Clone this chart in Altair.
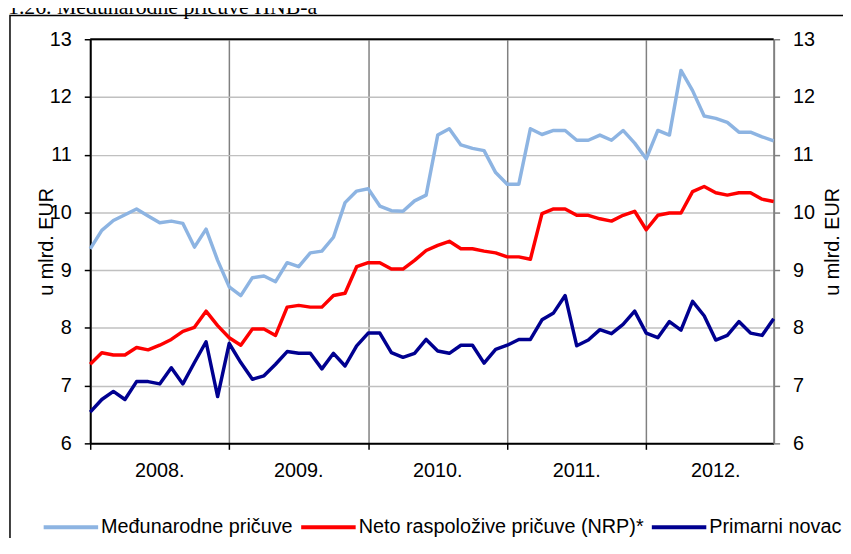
import altair as alt
import pandas as pd

# ---- data ----
series_names = ["Međunarodne pričuve", "Neto raspoložive pričuve (NRP)*", "Primarni novac"]
series_colors = ["#8DB4E2", "#FF0000", "#000090"]
year_labels = ["2008.", "2009.", "2010.", "2011.", "2012."]

medjunarodne = [9.37, 9.69, 9.86, 9.96, 10.06, 9.94, 9.82, 9.85, 9.81, 9.40, 9.71, 9.17,
                8.71, 8.56, 8.87, 8.90, 8.80, 9.13, 9.06, 9.30, 9.33, 9.57, 10.17, 10.37,
                10.41, 10.11, 10.03, 10.02, 10.20, 10.30, 11.34, 11.45, 11.17, 11.11, 11.07, 10.69,
                10.49, 10.49, 11.45, 11.35, 11.42, 11.42, 11.25, 11.25, 11.34, 11.25, 11.42, 11.20,
                10.93, 11.42, 11.34, 12.46, 12.11, 11.67, 11.63, 11.56, 11.39, 11.39, 11.31, 11.24]
nrp = [7.37, 7.57, 7.53, 7.53, 7.66, 7.62, 7.70, 7.80, 7.94, 8.01, 8.29, 8.04,
       7.83, 7.70, 7.98, 7.98, 7.87, 8.36, 8.39, 8.36, 8.36, 8.56, 8.60, 9.06,
       9.13, 9.13, 9.02, 9.02, 9.17, 9.34, 9.43, 9.50, 9.37, 9.37, 9.33, 9.30,
       9.23, 9.23, 9.19, 9.98, 10.06, 10.06, 9.95, 9.95, 9.89, 9.85, 9.95, 10.02,
       9.70, 9.95, 9.99, 9.99, 10.36, 10.45, 10.34, 10.30, 10.34, 10.34, 10.23, 10.19]
primarni = [6.54, 6.76, 6.90, 6.76, 7.07, 7.07, 7.03, 7.31, 7.03, 7.40, 7.76, 6.81,
            7.73, 7.40, 7.11, 7.17, 7.37, 7.59, 7.56, 7.56, 7.29, 7.56, 7.34, 7.69,
            7.91, 7.91, 7.57, 7.49, 7.56, 7.80, 7.60, 7.56, 7.70, 7.70, 7.39, 7.63,
            7.70, 7.80, 7.80, 8.14, 8.26, 8.56, 7.69, 7.79, 7.97, 7.90, 8.06, 8.29,
            7.91, 7.83, 8.11, 7.96, 8.46, 8.21, 7.79, 7.87, 8.11, 7.91, 7.87, 8.16]

rows = []
for name, vals in zip(series_names, [medjunarodne, nrp, primarni]):
    for i, v in enumerate(vals):
        rows.append({"mjesec": i, "vrijednost": v, "serija": name, "ord": series_names.index(name)})
df = pd.DataFrame(rows)

# year labels sit in the middle of each 12-month block
years_df = pd.DataFrame({"godina": year_labels, "pos": [12 * k + 6 for k in range(len(year_labels))]})

FONT = "Liberation Sans"
W, H = 690, 408
ydom = [6, 13]
xscale = alt.Scale(domain=[0, 59], nice=False, zero=False)

one = pd.DataFrame({"k": [0]})

box = alt.Chart(one).mark_rect(filled=False, stroke="black", strokeWidth=1.5).encode(
    x=alt.value(-81), x2=alt.value(900), y=alt.value(-24), y2=alt.value(700)
)

title_txt = alt.Chart(one).mark_text(
    align="left", baseline="alphabetic", font="Liberation Serif", fontSize=22, color="black"
).encode(x=alt.value(-83), y=alt.value(-25), text=alt.value("1.26. Međunarodne pričuve HNB-a"))

lines = alt.Chart(df).mark_line(strokeWidth=3.5, strokeJoin="round").encode(
    x=alt.X("mjesec:Q", scale=xscale,
            axis=alt.Axis(values=[0, 12, 24, 36, 48], labels=False,
                          grid=True, gridColor="#808080", gridWidth=1.5,
                          tickColor="black", tickSize=6, tickWidth=1.5,
                          domainColor="black", domainWidth=2, title=None)),
    y=alt.Y("vrijednost:Q",
            scale=alt.Scale(domain=ydom, nice=False, zero=False),
            axis=alt.Axis(values=[6, 7, 8, 9, 10, 11, 12, 13], grid=True,
                          gridColor="#C0C0C0", gridWidth=1.5,
                          tickColor="black", tickSize=6, tickWidth=1.5,
                          domainColor="black", domainWidth=2, labelPadding=13,
                          title="u mlrd. EUR", titleAngle=270, titleX=-44, titleY=204,
                          titleAlign="center", titleBaseline="middle")),
    color=alt.Color("serija:N",
                    scale=alt.Scale(domain=series_names, range=series_colors),
                    legend=alt.Legend(title=None, orient="none", legendX=-49, legendY=463,
                                      direction="horizontal", symbolType="stroke",
                                      symbolSize=3025, symbolStrokeWidth=4,
                                      labelFont=FONT, labelFontSize=20, labelColor="black",
                                      labelOffset=1, columnPadding=0, padding=0,
                                      labelLimit=500)),
    order=alt.Order("ord:Q"),
)

year_text = alt.Chart(years_df).mark_text(
    font=FONT, fontSize=20, color="black", baseline="top", align="center"
).encode(x=alt.X("pos:Q", scale=xscale), y=alt.value(H + 18), text="godina:N")

top_rule = alt.Chart(one).mark_rule(color="black", strokeWidth=2).encode(
    x=alt.value(0), x2=alt.value(W), y=alt.value(0)
)

right_axis = alt.Chart(pd.DataFrame({"v": ydom})).mark_point(opacity=0).encode(
    y=alt.Y("v:Q",
            scale=alt.Scale(domain=ydom, nice=False, zero=False),
            axis=alt.Axis(orient="right", values=[6, 7, 8, 9, 10, 11, 12, 13], grid=False,
                          tickColor="#808080", tickSize=6, tickWidth=1.5,
                          domainColor="#808080", domainWidth=2, labelPadding=13,
                          title="u mlrd. EUR", titleAngle=270, titleX=59, titleY=204,
                          titleAlign="center", titleBaseline="middle"))
)

chart = alt.layer(box, title_txt, lines, year_text, top_rule, right_axis).resolve_scale(
    y="independent"
).properties(
    width=W, height=H,
    autosize=alt.AutoSizeParams(type="none"),
    padding={"left": 83, "top": 29, "right": 70, "bottom": 93},
).configure_view(stroke=None).configure_axis(
    labelFont=FONT, labelFontSize=20, labelColor="black",
    titleFont=FONT, titleFontSize=20, titleFontWeight="normal", titleColor="black",
)

chart.save("out.html", embed_options={"renderer": "svg", "actions": False})
